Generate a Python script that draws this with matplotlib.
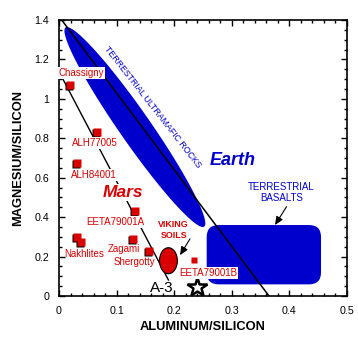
import numpy as np
import matplotlib
matplotlib.use("Agg")
import matplotlib.pyplot as plt
from matplotlib.patches import FancyBboxPatch, Ellipse
from matplotlib.transforms import offset_copy

plt.rcParams['font.family'] = ['Liberation Sans', 'DejaVu Sans']

BLUE = '#0000CC'
RED = '#D80000'

# Martian meteorites: Al/Si and Mg/Si ratios
meteorites = ['Chassigny', 'ALH77005', 'ALH84001', 'EETA79001A',
              'Nakhlites', 'Nakhlites', 'Zagami', 'Shergotty']
al_si = [0.019, 0.066, 0.031, 0.132, 0.031, 0.038, 0.128, 0.156]
mg_si = [1.07, 0.832, 0.675, 0.431, 0.300, 0.274, 0.289, 0.228]

# EETA79001 lithology B
eeta_b_al, eeta_b_mg = 0.234, 0.183

# Pathfinder rock A-3
a3_al, a3_mg = 0.239, 0.044

# Label anchors (Al/Si, Mg/Si)
label_text = ['Chassigny', 'ALH77005', 'ALH84001', 'EETA79001A',
              'Nakhlites', 'Zagami', 'Shergotty', 'EETA79001B']
label_x = [0.038, 0.0625, 0.061, 0.098, 0.0434, 0.113, 0.131, 0.259]
label_y = [1.131, 0.776, 0.614, 0.375, 0.213, 0.238, 0.172, 0.117]
label_boxed = [True, True, True, True, False, False, False, True]

# Terrestrial fractionation line and Martian fractionation line
earth_line_x = [0.0047, 0.3646]
earth_line_y = [1.40, 0.0]
mars_line_x = [0.0, 0.19]
mars_line_y = [1.138, 0.081]

# Terrestrial ultramafic rock field: major-axis tips and half-width vector
umaf_tip1 = (0.0115, 1.362)
umaf_tip2 = (0.2520, 0.352)
umaf_halfwidth = (0.0222, 0.0452)

# Terrestrial basalt field
basalt_x = (0.2564, 0.4549)
basalt_y = (0.059, 0.360)

# Viking soils
viking_al, viking_mg = 0.19, 0.179
viking_w, viking_h = 0.031, 0.132

fig = plt.figure(figsize=(3.58, 3.37), dpi=100)
ax = fig.add_axes([59/358, 1-296/337, 288/358, 276/337])
ax.set_xlim(0, 0.5)
ax.set_ylim(0, 1.4)

# ultramafic field
t = np.linspace(0, 2*np.pi, 300)
c = np.array([(umaf_tip1[0]+umaf_tip2[0])/2, (umaf_tip1[1]+umaf_tip2[1])/2])
u = np.array([umaf_tip1[0]-c[0], umaf_tip1[1]-c[1]])
v = np.array(umaf_halfwidth)
ex = c[0] + u[0]*np.cos(t) + v[0]*np.sin(t)
ey = c[1] + u[1]*np.cos(t) + v[1]*np.sin(t)
ax.fill(ex, ey, color=BLUE, lw=0, zorder=1)

# basalt field with rounded corners
px_per_x = 288/0.5
px_per_y = 276/1.4
rr = 12/px_per_x
ax.add_patch(FancyBboxPatch((basalt_x[0]+rr, basalt_y[0]+rr*px_per_x/px_per_y),
                            basalt_x[1]-basalt_x[0]-2*rr,
                            basalt_y[1]-basalt_y[0]-2*rr*px_per_x/px_per_y,
                            boxstyle=f"round,pad={rr},rounding_size={rr}",
                            mutation_aspect=px_per_x/px_per_y,
                            fc=BLUE, ec='none', zorder=1))

ax.plot(earth_line_x, earth_line_y, color='black', lw=1.1, zorder=2)
ax.plot(mars_line_x, mars_line_y, color='black', lw=1.0, zorder=2)

ax.add_patch(Ellipse((viking_al, viking_mg), viking_w, viking_h,
                     fc=RED, ec='black', lw=0.8, zorder=4))

# meteorite squares with a small dark shadow
shadow = offset_copy(ax.transData, fig=fig, x=-1.1, y=-1.1, units='dots')
ax.plot(al_si, mg_si, 's', ms=5.6, mfc='black', mec='none', transform=shadow, zorder=5)
ax.plot(al_si, mg_si, 's', ms=5.6, mfc=RED, mec='none', zorder=6)
ax.plot([eeta_b_al], [eeta_b_mg], 's', ms=4.6, mfc=RED, mec='none', zorder=6)

ax.plot([a3_al], [a3_mg], marker='*', ms=14.5, mfc='white', mec='black', mew=1.8,
        zorder=6, clip_on=False)

for txt, lx, ly, boxed in zip(label_text, label_x, label_y, label_boxed):
    kw = dict(ha='center', va='center', fontsize=7, color=RED, zorder=7)
    if boxed:
        kw['bbox'] = dict(fc='white', ec='none', pad=0.6)
    ax.text(lx, ly, txt, **kw)

ax.text(0.111, 0.523, 'Mars', ha='center', va='center', fontsize=12.5,
        fontweight='bold', fontstyle='italic', color=RED, zorder=7,
        bbox=dict(fc='white', ec='none', pad=0.8))
ax.text(0.302, 0.685, 'Earth', ha='center', va='center', fontsize=13,
        fontweight='bold', fontstyle='italic', color=BLUE, zorder=7)
ax.text(0.199, 0.335, 'VIKING\nSOILS', ha='center', va='center', fontsize=6.4,
        fontweight='bold', color=RED, linespacing=1.2, zorder=7)
ax.text(0.386, 0.526, 'TERRESTRIAL\nBASALTS', ha='center', va='center', fontsize=7,
        color=BLUE, linespacing=1.1, zorder=7)
ax.text(0.163, 0.956, 'TERRESTRIAL ULTRAMAFIC ROCKS', ha='center', va='center',
        fontsize=6.3, color=BLUE, rotation=-52, rotation_mode='anchor', zorder=7)
ax.text(0.178, 0.039, 'A-3', ha='center', va='center', fontsize=11,
        color='black', zorder=7)

arrow_kw = dict(arrowstyle='-|>,head_length=0.5,head_width=0.22', color='black',
                lw=0.8, shrinkA=0, shrinkB=0)
ax.annotate('', xy=(0.2101, 0.207), xytext=(0.2274, 0.290), arrowprops=arrow_kw, zorder=7)
ax.annotate('', xy=(0.375, 0.360), xytext=(0.395, 0.453), arrowprops=arrow_kw, zorder=7)

# axes and ticks
ax.set_xticks(np.arange(0, 0.51, 0.1))
ax.set_xticklabels(['0', '0.1', '0.2', '0.3', '0.4', '0.5'])
ax.set_xticks(np.arange(0, 0.51, 0.02), minor=True)
ax.set_yticks(np.arange(0, 1.41, 0.2))
ax.set_yticklabels(['0', '0.2', '0.4', '0.6', '0.8', '1', '1.2', '1.4'])
ax.set_yticks(np.arange(0, 1.41, 0.05), minor=True)
ax.tick_params(which='both', direction='in', top=True, right=True, width=1.0,
               labelsize=7.7, color='black')
ax.tick_params(which='major', length=4.5)
ax.tick_params(which='minor', length=2.3)
ax.tick_params(axis='x', which='major', pad=7)
ax.tick_params(axis='y', which='major', pad=7)
for s in ax.spines.values():
    s.set_linewidth(1.2)

fig.text(203/358, 1-327/337, 'ALUMINUM/SILICON', ha='center', va='center',
         fontsize=9.3, fontweight='bold')
fig.text(18/358, 1-158/337, 'MAGNESIUM/SILICON', ha='center', va='center',
         fontsize=9.3, fontweight='bold', rotation=90)

fig.savefig('out.png', dpi=100)
